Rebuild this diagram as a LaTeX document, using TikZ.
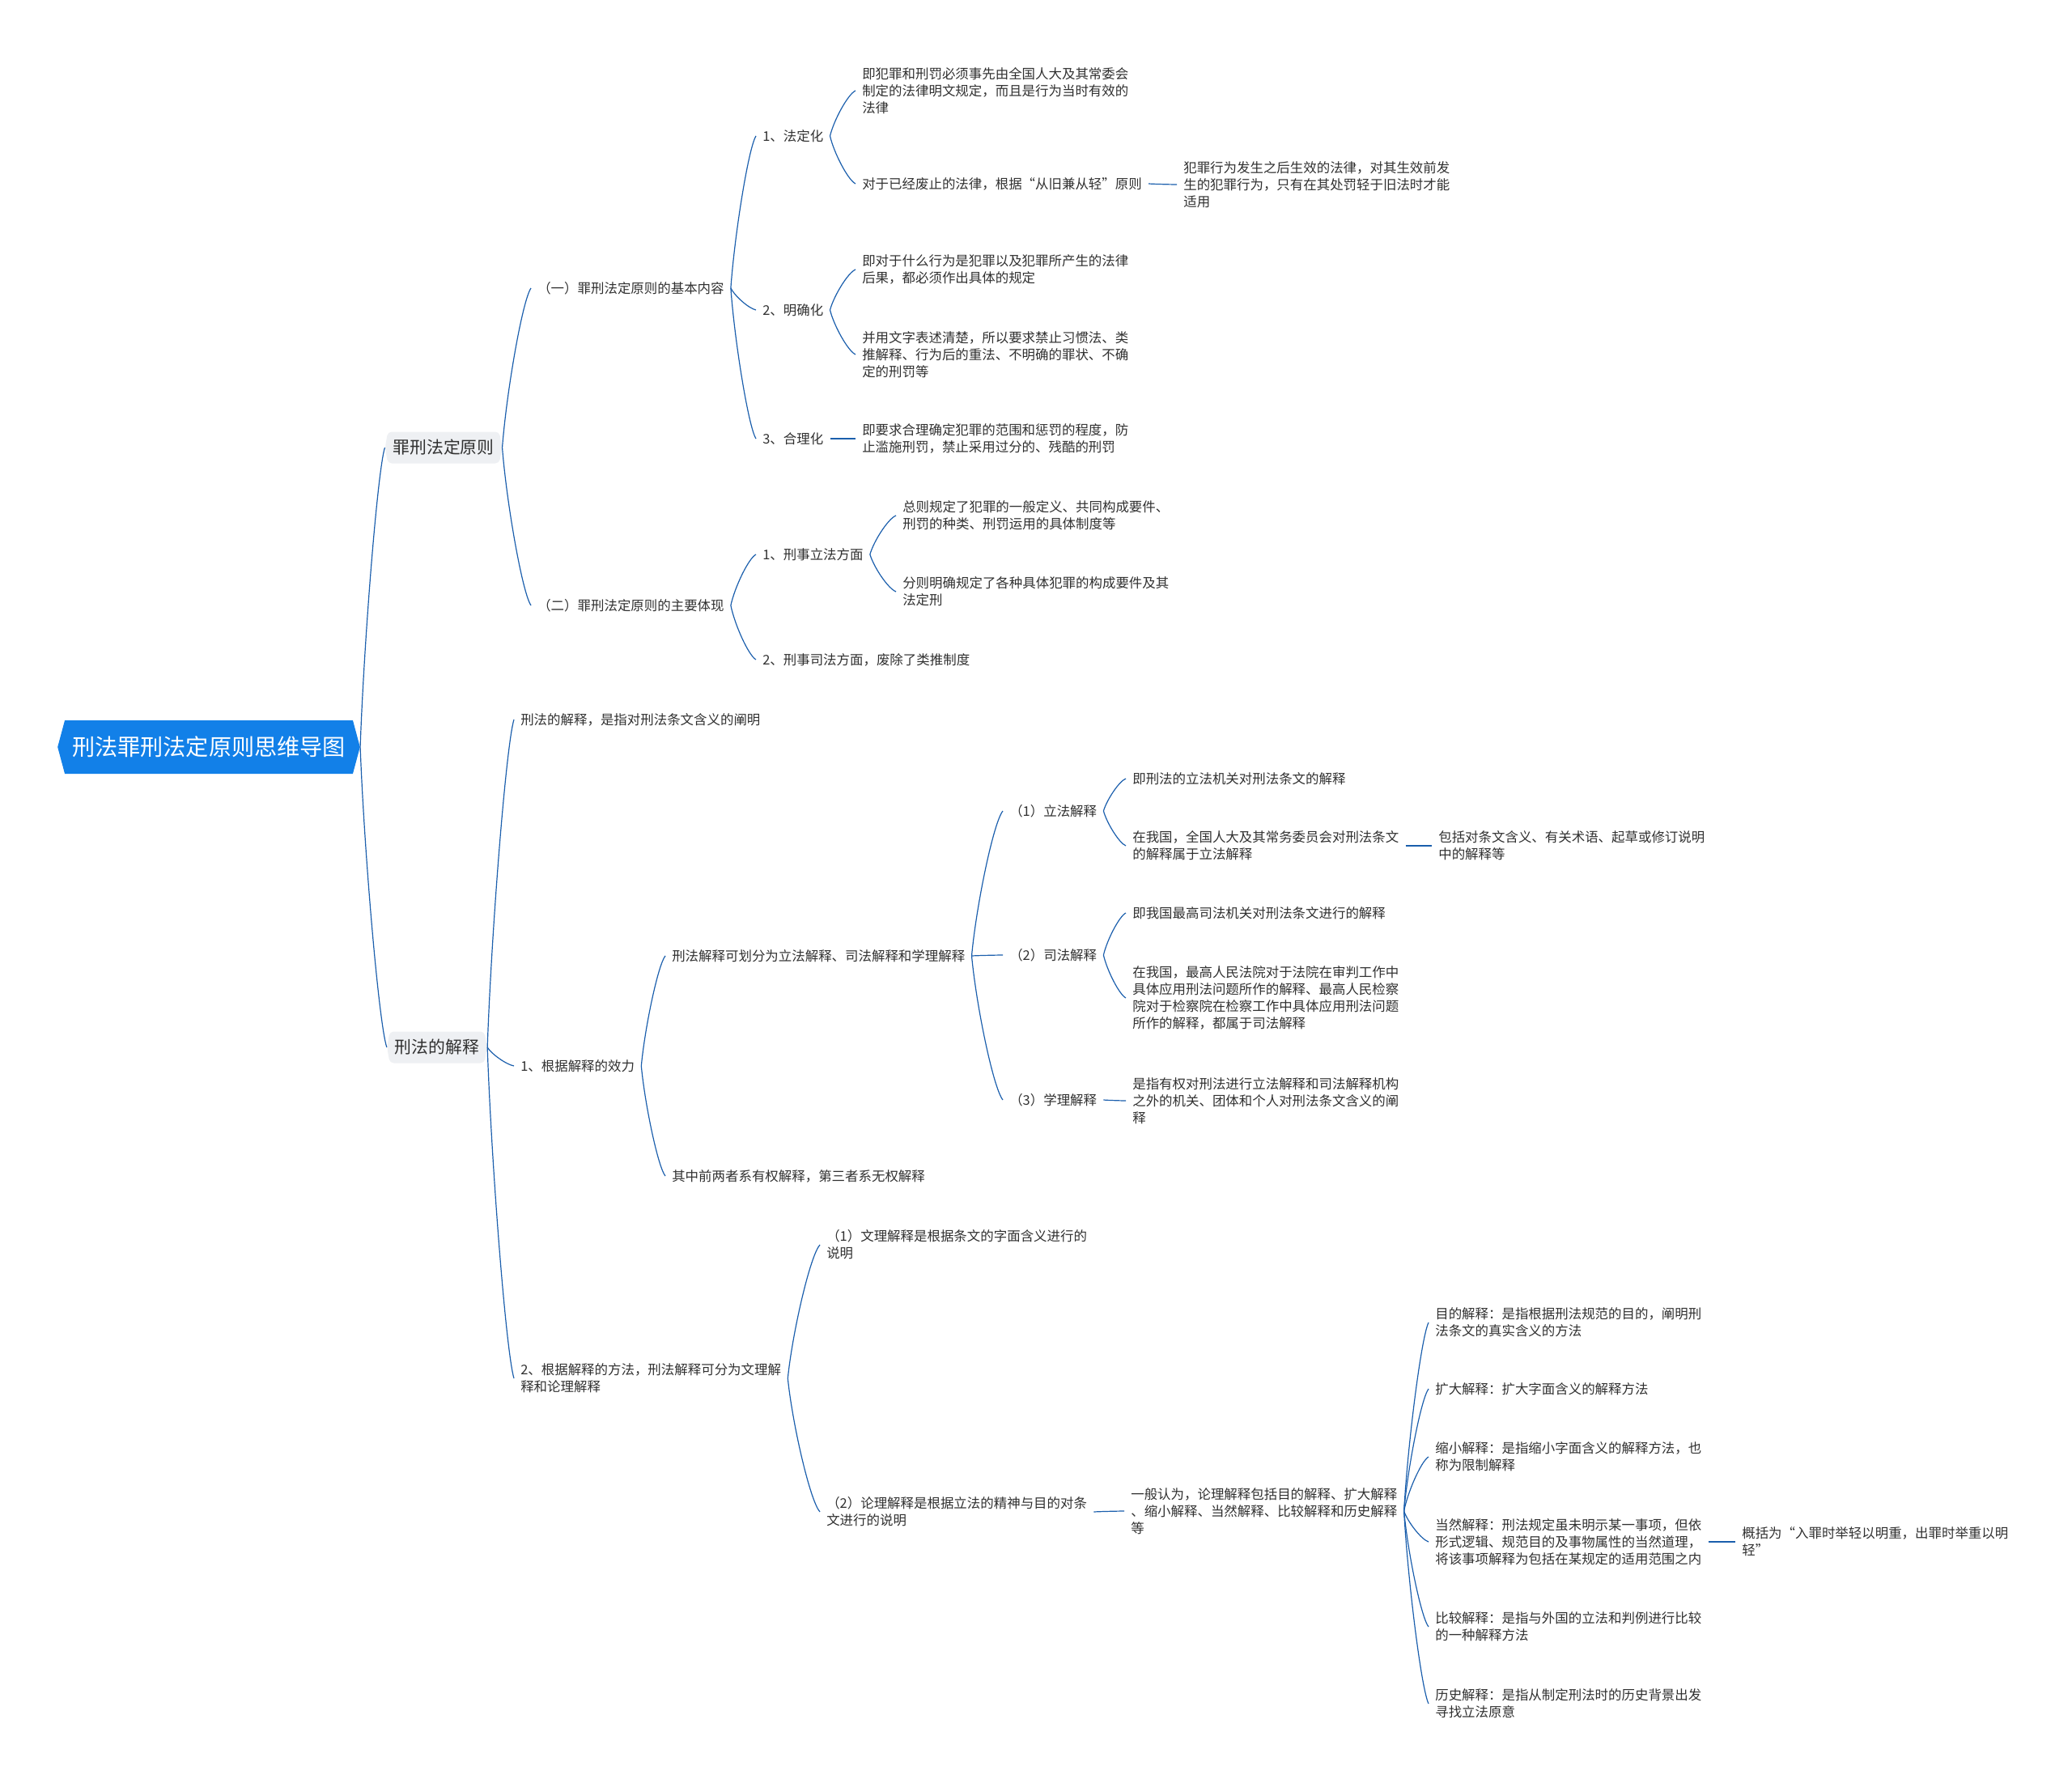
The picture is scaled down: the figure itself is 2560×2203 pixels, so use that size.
\documentclass[tikz,border=0pt]{standalone}
\usepackage{fontspec}
\setmainfont{Noto Sans CJK SC}
\usetikzlibrary{shapes.symbols,calc}
\definecolor{rootblue}{RGB}{18,128,232}
\definecolor{linkblue}{RGB}{26,94,172}
\definecolor{topicgray}{RGB}{238,240,243}
\definecolor{txtgray}{RGB}{48,48,48}
\begin{document}
\begin{tikzpicture}[x=0.025cm, y=-0.025cm,
  leaf/.style={anchor=west, align=left, inner xsep=0.2cm, inner ysep=0.1cm, text=txtgray, font=\fontsize{11.7pt}{14.9pt}\selectfont},
  topic/.style={signal, signal to=west and east, signal pointer angle=160, rounded corners=0.12cm, fill=topicgray, inner xsep=0.16cm, minimum height=0.975cm, text=txtgray, font=\fontsize{14.8pt}{18pt}\selectfont},
  root/.style={signal, signal to=west and east, signal pointer angle=150, fill=rootblue, text=white, minimum height=1.65cm, inner xsep=0.23cm, font=\fontsize{20pt}{24pt}\selectfont},
  branch/.style={linkblue, line width=0.85pt, to path={let \p1=(\tikztostart), \p2=(\tikztotarget) in .. controls ({\x1+0.15*(\x2-\x1)},{\y1+0.35*(\y2-\y1)}) and ({\x1+0.7*(\x2-\x1)},{\y1+0.92*(\y2-\y1)}) .. (\tikztotarget)}}]
\useasboundingbox (0,0) rectangle (2560,2203);
\node[root] (rt) at (258,923) {刑法罪刑法定原则思维导图};
\node[topic] (zfd) at (548,553) {罪刑法定原则};
\node[topic] (xfjs) at (540,1294) {刑法的解释};
\node[leaf] (jbnr) at (656,356) {（一）罪刑法定原则的基本内容};
\node[leaf] (zytx) at (656,748) {（二）罪刑法定原则的主要体现};
\node[leaf] (fdh) at (934,168) {1、法定化};
\node[leaf] (fdh1) at (1057,112) {即犯罪和刑罚必须事先由全国人大及其常委会\\制定的法律明文规定，而且是行为当时有效的\\法律};
\node[leaf] (fdh2) at (1057,227) {对于已经废止的法律，根据“从旧兼从轻”原则};
\node[leaf] (fdh21) at (1454,228) {犯罪行为发生之后生效的法律，对其生效前发\\生的犯罪行为，只有在其处罚轻于旧法时才能\\适用};
\node[leaf] (mqh) at (934,383) {2、明确化};
\node[leaf] (mqh1) at (1057,333) {即对于什么行为是犯罪以及犯罪所产生的法律\\后果，都必须作出具体的规定};
\node[leaf] (mqh2) at (1057,438) {并用文字表述清楚，所以要求禁止习惯法、类\\推解释、行为后的重法、不明确的罪状、不确\\定的刑罚等};
\node[leaf] (hlh) at (934,542) {3、合理化};
\node[leaf] (hlh1) at (1057,542) {即要求合理确定犯罪的范围和惩罚的程度，防\\止滥施刑罚，禁止采用过分的、残酷的刑罚};
\node[leaf] (xslf) at (934,685) {1、刑事立法方面};
\node[leaf] (xslf1) at (1107,637) {总则规定了犯罪的一般定义、共同构成要件、\\刑罚的种类、刑罚运用的具体制度等};
\node[leaf] (xslf2) at (1107,731) {分则明确规定了各种具体犯罪的构成要件及其\\法定刑};
\node[leaf] (xssf) at (934,815) {2、刑事司法方面，废除了类推制度};
\node[leaf] (hy) at (635,889) {刑法的解释，是指对刑法条文含义的阐明};
\node[leaf] (xl) at (635,1317) {1、根据解释的效力};
\node[leaf] (hf) at (822,1181) {刑法解释可划分为立法解释、司法解释和学理解释};
\node[leaf] (lfjs) at (1239,1002) {（1）立法解释};
\node[leaf] (sfjs) at (1239,1180) {（2）司法解释};
\node[leaf] (xljs) at (1239,1359) {（3）学理解释};
\node[leaf] (lf1) at (1391,962) {即刑法的立法机关对刑法条文的解释};
\node[leaf] (lf2) at (1391,1045) {在我国，全国人大及其常务委员会对刑法条文\\的解释属于立法解释};
\node[leaf] (lf21) at (1769,1045) {包括对条文含义、有关术语、起草或修订说明\\中的解释等};
\node[leaf] (sf1) at (1391,1128) {即我国最高司法机关对刑法条文进行的解释};
\node[leaf] (sf2) at (1391,1233) {在我国，最高人民法院对于法院在审判工作中\\具体应用刑法问题所作的解释、最高人民检察\\院对于检察院在检察工作中具体应用刑法问题\\所作的解释，都属于司法解释};
\node[leaf] (xl1) at (1391,1360) {是指有权对刑法进行立法解释和司法解释机构\\之外的机关、团体和个人对刑法条文含义的阐\\释};
\node[leaf] (yq) at (822,1453) {其中前两者系有权解释，第三者系无权解释};
\node[leaf] (ff) at (635,1703) {2、根据解释的方法，刑法解释可分为文理解\\释和论理解释};
\node[leaf] (wl) at (1013,1538) {（1）文理解释是根据条文的字面含义进行的\\说明};
\node[leaf] (ll) at (1013,1868) {（2）论理解释是根据立法的精神与目的对条\\文进行的说明};
\node[leaf] (yb) at (1389,1867) {一般认为，论理解释包括目的解释、扩大解释\\、缩小解释、当然解释、比较解释和历史解释\\等};
\node[leaf] (md) at (1765,1634) {目的解释：是指根据刑法规范的目的，阐明刑\\法条文的真实含义的方法};
\node[leaf] (kd) at (1765,1716) {扩大解释：扩大字面含义的解释方法};
\node[leaf] (sx) at (1765,1800) {缩小解释：是指缩小字面含义的解释方法，也\\称为限制解释};
\node[leaf] (dr) at (1765,1905) {当然解释：刑法规定虽未明示某一事项，但依\\形式逻辑、规范目的及事物属性的当然道理，\\将该事项解释为包括在某规定的适用范围之内};
\node[leaf] (gk) at (2144,1905) {概括为“入罪时举轻以明重，出罪时举重以明\\轻”};
\node[leaf] (bj) at (1765,2010) {比较解释：是指与外国的立法和判例进行比较\\的一种解释方法};
\node[leaf] (ls) at (1765,2105) {历史解释：是指从制定刑法时的历史背景出发\\寻找立法原意};
\draw[branch] (rt.east) to (zfd.west);
\draw[branch] (rt.east) to (xfjs.west);
\draw[branch] (zfd.east) to (jbnr.west);
\draw[branch] (zfd.east) to (zytx.west);
\draw[branch] (jbnr.east) to (fdh.west);
\draw[branch] (jbnr.east) to (mqh.west);
\draw[branch] (jbnr.east) to (hlh.west);
\draw[branch] (fdh.east) to (fdh1.west);
\draw[branch] (fdh.east) to (fdh2.west);
\draw[branch] (fdh2.east) to (fdh21.west);
\draw[branch] (mqh.east) to (mqh1.west);
\draw[branch] (mqh.east) to (mqh2.west);
\draw[branch] (hlh.east) to (hlh1.west);
\draw[branch] (zytx.east) to (xslf.west);
\draw[branch] (zytx.east) to (xssf.west);
\draw[branch] (xslf.east) to (xslf1.west);
\draw[branch] (xslf.east) to (xslf2.west);
\draw[branch] (xfjs.east) to (hy.west);
\draw[branch] (xfjs.east) to (xl.west);
\draw[branch] (xfjs.east) to (ff.west);
\draw[branch] (xl.east) to (hf.west);
\draw[branch] (xl.east) to (yq.west);
\draw[branch] (hf.east) to (lfjs.west);
\draw[branch] (hf.east) to (sfjs.west);
\draw[branch] (hf.east) to (xljs.west);
\draw[branch] (lfjs.east) to (lf1.west);
\draw[branch] (lfjs.east) to (lf2.west);
\draw[branch] (lf2.east) to (lf21.west);
\draw[branch] (sfjs.east) to (sf1.west);
\draw[branch] (sfjs.east) to (sf2.west);
\draw[branch] (xljs.east) to (xl1.west);
\draw[branch] (ff.east) to (wl.west);
\draw[branch] (ff.east) to (ll.west);
\draw[branch] (ll.east) to (yb.west);
\draw[branch] (yb.east) to (md.west);
\draw[branch] (yb.east) to (kd.west);
\draw[branch] (yb.east) to (sx.west);
\draw[branch] (yb.east) to (dr.west);
\draw[branch] (yb.east) to (bj.west);
\draw[branch] (yb.east) to (ls.west);
\draw[branch] (dr.east) to (gk.west);
\end{tikzpicture}
\end{document}
